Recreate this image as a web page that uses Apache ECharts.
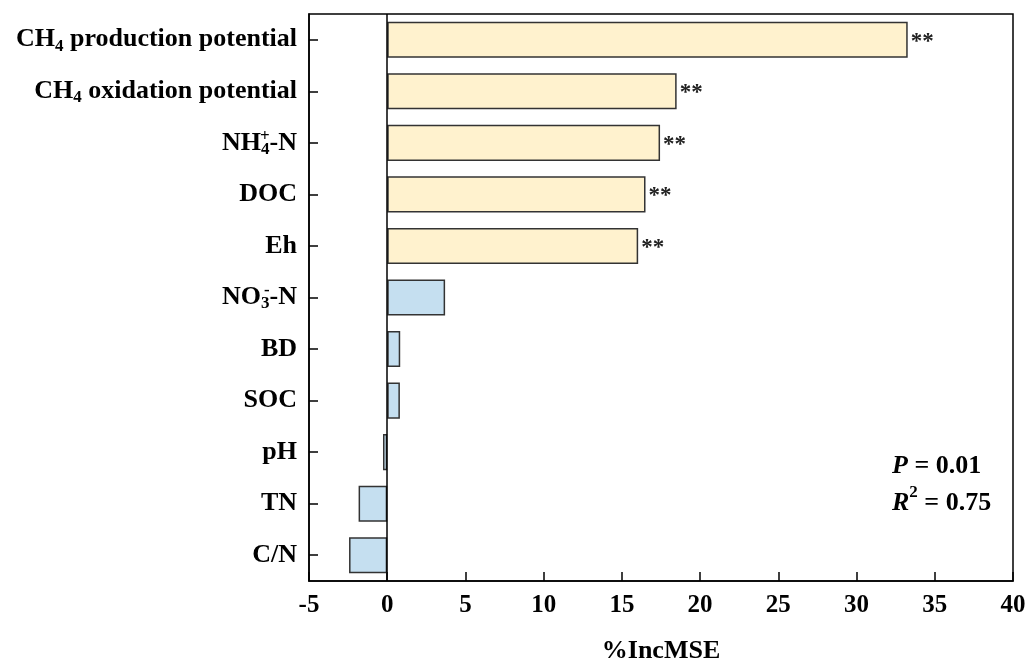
<!DOCTYPE html>
<html>
<head>
<meta charset="utf-8">
<style>
  html, body { margin: 0; padding: 0; background: #fff; }
  #chart { width: 1025px; height: 662px; }
</style>
<script src="https://cdn.jsdelivr.net/npm/echarts@6/dist/echarts.min.js"></script>
</head>
<body>
<div id="chart"></div>
<script>
// Variable importance (%IncMSE) from the random forest model
const categories = [
  'CH4 production potential',
  'CH4 oxidation potential',
  'NH4+-N',
  'DOC',
  'Eh',
  'NO3--N',
  'BD',
  'SOC',
  'pH',
  'TN',
  'C/N'
];
const incMSE = [33.27, 18.5, 17.44, 16.51, 16.04, 3.7, 0.83, 0.81, -0.27, -1.83, -2.44];
const significance = ['**', '**', '**', '**', '**', '', '', '', '', '', ''];
const xTicks = { min: -5, max: 40, step: 5 };
const statP = '0.01';
const statR2 = '0.75';

const FONT = '"Liberation Serif", "Times New Roman", serif';
const YELLOW = '#FFF2CE';
const BLUE = '#C5DFF0';

// Category labels with chemical sub/superscripts as rich text.
// Labels are right-aligned, so the superscript (zero advance, right-aligned)
// follows the subscript and is drawn back over it, stacking the two.
const labelRich = {
  m: { fontFamily: FONT, fontWeight: 'bold', fontSize: 26, color: '#000', lineHeight: 30, align: 'right' },
  sub: { fontFamily: FONT, fontWeight: 'bold', fontSize: 17, color: '#000', lineHeight: 10, verticalAlign: 'bottom', align: 'right' },
  sup: { fontFamily: FONT, fontWeight: 'bold', fontSize: 17, color: '#000', lineHeight: 17, verticalAlign: 'top', width: 0, align: 'right' }
};
function formatLabel(name) {
  switch (name) {
    case 'CH4 production potential': return '{m|CH}{sub|4}{m| production potential}';
    case 'CH4 oxidation potential': return '{m|CH}{sub|4}{m| oxidation potential}';
    case 'NH4+-N': return '{m|NH}{sub|4}{sup|+}{m|-N}';
    case 'NO3--N': return '{m|NO}{sub|3}{sup|-}{m|-N}';
    default: return '{m|' + name + '}';
  }
}

const chart = echarts.init(document.getElementById('chart'), null, { renderer: 'canvas' });

const option = {
  animation: false,
  backgroundColor: '#fff',
  grid: {
    left: 309, right: 12, top: 14, bottom: 81,
    outerBoundsMode: 'none',
    show: true, borderColor: '#000', borderWidth: 1.5, backgroundColor: 'transparent'
  },
  xAxis: {
    type: 'value',
    min: xTicks.min, max: xTicks.max, interval: xTicks.step,
    name: '%IncMSE',
    nameLocation: 'middle',
    nameGap: 57,
    nameTextStyle: { fontFamily: FONT, fontWeight: 'bold', fontSize: 26, color: '#000' },
    axisLine: { show: true, lineStyle: { color: '#000', width: 1.5 } },
    axisTick: { show: true, inside: true, length: 9, lineStyle: { color: '#000', width: 1.5 } },
    axisLabel: { fontFamily: FONT, fontWeight: 'bold', fontSize: 25, color: '#000', margin: 12 },
    splitLine: { show: false }
  },
  yAxis: {
    type: 'category',
    data: categories,
    inverse: true,
    axisLine: { show: true, onZero: false, lineStyle: { color: '#000', width: 1.5 } },
    axisTick: { show: true, inside: true, length: 9, alignWithLabel: true, lineStyle: { color: '#000', width: 1.5 } },
    axisLabel: { margin: 12, formatter: formatLabel, rich: labelRich },
    splitLine: { show: false }
  },
  series: [{
    type: 'bar',
    data: incMSE.map((v, i) => ({
      value: v,
      itemStyle: { color: significance[i] ? YELLOW : BLUE }
    })),
    barWidth: '70%',
    itemStyle: { borderColor: '#333', borderWidth: 1.5 },
    label: {
      show: true,
      position: 'right',
      distance: 3,
      formatter: p => significance[p.dataIndex],
      fontFamily: FONT, fontWeight: 'bold', fontSize: 23, color: '#222', offset: [0, 2]
    },
    markLine: {
      silent: true,
      symbol: 'none',
      label: { show: false },
      lineStyle: { color: '#000', width: 1.5, type: 'solid' },
      data: [{ xAxis: 0 }]
    }
  }],
  graphic: [{
    type: 'text',
    left: 892, top: 453,
    style: {
      text: '{i|P}{b| = ' + statP + '}\n{i|R}{s|2}{b| = ' + statR2 + '}',
      rich: {
        i: { fontFamily: FONT, fontWeight: 'bold', fontStyle: 'italic', fontSize: 26, fill: '#000', lineHeight: 37 },
        b: { fontFamily: FONT, fontWeight: 'bold', fontSize: 26, fill: '#000', lineHeight: 37 },
        s: { fontFamily: FONT, fontWeight: 'bold', fontSize: 17, fill: '#000', lineHeight: 29, verticalAlign: 'top' }
      }
    }
  }]
};

chart.setOption(option);
</script>
</body>
</html>
